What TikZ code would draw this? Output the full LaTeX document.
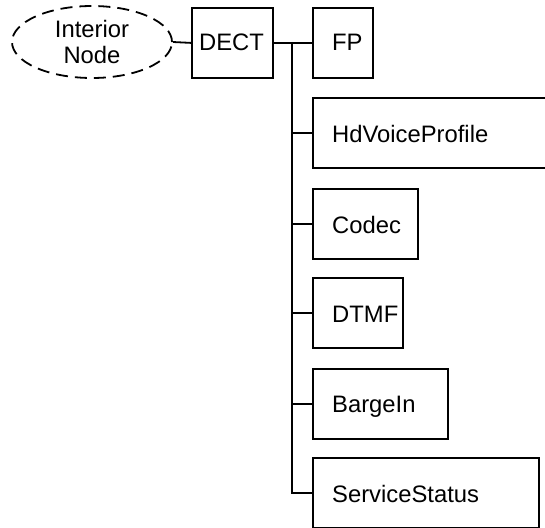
\documentclass[tikz,border=0pt]{standalone}
\usepackage{fontspec}
\setmainfont{Liberation Sans}
\usetikzlibrary{shapes.geometric}
\begin{document}
\begin{tikzpicture}[x=1pt,y=-1pt,
  every node/.style={font=\fontsize{23.8}{26.5}\selectfont},
  box/.style={draw, line width=1.8pt, minimum height=70pt, inner sep=0pt, anchor=north west},
  lbl/.style={anchor=base west, inner sep=0pt},
  conn/.style={line width=1.8pt}]
\useasboundingbox (0,0) rectangle (545,527);
\node[draw, dash pattern=on 12pt off 7pt, line width=1.8pt, ellipse, minimum width=160pt, minimum height=72pt, inner sep=0pt, align=center] (int) at (92,42) {Interior\\Node};
\node[box, minimum width=81pt] (dect) at (191,7) {};
\node[anchor=center, inner sep=0pt] (dectl) at (231.5,42) {DECT};
\node[box, minimum width=60pt] (fp) at (312,7) {};
\node[lbl] (fpl) at (332,51) {FP};
\node[box, minimum width=250pt] (hd) at (312,97) {};
\node[lbl] (hdl) at (332,142) {HdVoiceProfile};
\node[box, minimum width=105pt] (codec) at (312,188) {};
\node[lbl] (codecl) at (332,233) {Codec};
\node[box, minimum width=90pt] (dtmf) at (312,277) {};
\node[lbl] (dtmfl) at (332,322.5) {DTMF};
\node[box, minimum width=135pt] (barge) at (312,368) {};
\node[lbl] (bargel) at (332,412.5) {BargeIn};
\node[box, minimum width=226pt] (svc) at (312,457) {};
\node[lbl] (svcl) at (332,502) {ServiceStatus};
\coordinate (trunk) at (292,42);
\draw[conn] (int.east) -- (dect.west);
\draw[conn] (dect.east) -- (fp.west);
\draw[conn] (trunk) |- (svc.west);
\foreach \n in {hd,codec,dtmf,barge}
  \draw[conn] (\n.west) -- (\n.west -| trunk);
\end{tikzpicture}
\end{document}
